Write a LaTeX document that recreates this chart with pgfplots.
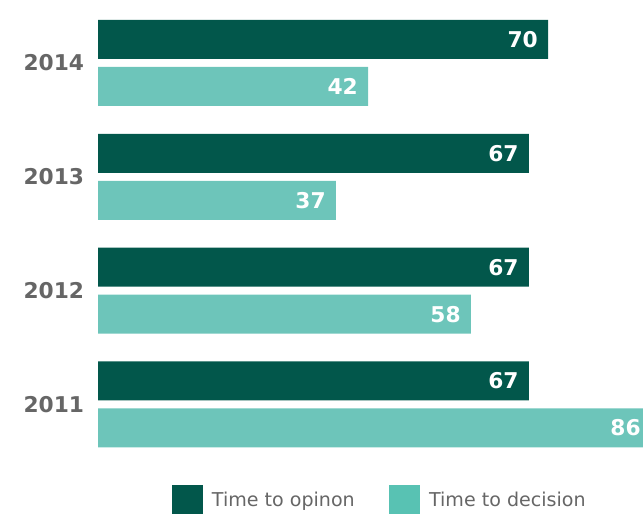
\documentclass[border=0pt]{standalone}
\usepackage{fontspec}
\setmainfont{DejaVu Sans}
\usepackage{pgfplots}
\pgfplotsset{compat=1.18}
\definecolor{dk}{HTML}{02574B}
\definecolor{lt}{HTML}{6DC5BA}
\definecolor{ltleg}{HTML}{58C2B3}
\definecolor{gr}{HTML}{666666}
\begin{document}
\begin{tikzpicture}
\useasboundingbox (0pt,0pt) rectangle (482.25pt,385.5pt);
\begin{axis}[
  at={(73.5pt,39.45pt)}, anchor=south west,
  scale only axis, width=482.25pt, height=341.5pt,
  /pgf/number format/assume math mode=true,
  xbar, xmin=0, xmax=100, ymin=-0.5, ymax=3.5,
  axis line style={draw=none}, tick style={draw=none},
  xtick=\empty,
  ytick={0,1,2,3}, yticklabels={2011,2012,2013,2014},
  yticklabel style={font=\fontsize{16.3}{19}\selectfont\bfseries, text=gr, inner sep=0pt, anchor=east, xshift=-6pt},
  bar width=29.25pt,
  nodes near coords, point meta=x,
  nodes near coords style={anchor=east, text=white, font=\fontsize{16.3}{19}\selectfont\bfseries, inner sep=0pt, xshift=-7.5pt},
  legend columns=2,
  legend style={at={(0.1151,-0.0848)}, anchor=west, draw=none, fill=none,
    font=\fontsize{14.3}{17}\selectfont, text=gr, inner sep=0pt,
    /tikz/every odd column/.append style={column sep=4.5pt},
    /tikz/every even column/.append style={column sep=24pt}},
  legend cell align=left,
]
\addplot[fill=dk, draw=none, bar shift=17.625pt,
  legend image code/.code={\fill[dk] (0pt,-11.625pt) rectangle (23.25pt,11.625pt);}]
  coordinates {(67,0) (67,1) (67,2) (70,3)};
\addplot[fill=lt, draw=none, bar shift=-17.625pt,
  legend image code/.code={\fill[ltleg] (0pt,-11.625pt) rectangle (23.25pt,11.625pt);}]
  coordinates {(86,0) (58,1) (37,2) (42,3)};
\legend{Time to opinon, Time to decision}
\end{axis}
\end{tikzpicture}
\end{document}
